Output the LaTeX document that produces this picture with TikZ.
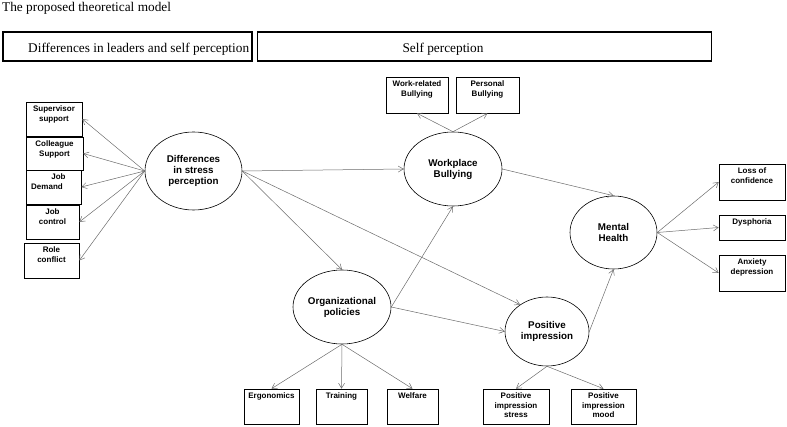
\documentclass[tikz,border=0pt]{standalone}
\usepackage{fontspec}
\setmainfont{Liberation Serif}
\newfontfamily\arialfont{Liberation Sans}
\usetikzlibrary{shapes.geometric,arrows.meta}

\newlength{\du}
\setlength{\du}{1pt}
% text of an indicator box, set at its top
\newcommand{\boxtxt}[3]{\parbox[c][#2\du][t]{#1\du}{\centering\rule{0pt}{10\du}#3}}
\definecolor{dialinecolor}{rgb}{0.000000, 0.000000, 0.000000}
\definecolor{arrowgray}{rgb}{0.420000, 0.420000, 0.420000}

\begin{document}
\begin{tikzpicture}[
  header/.style={draw=dialinecolor, line width=1.8\du, minimum height=29\du, inner sep=0pt},
  headtext/.style={inner sep=0pt, font=\fontsize{13.3}{15}\selectfont},
  factor/.style={draw=dialinecolor, ellipse, line width=0.6\du, inner sep=0pt, align=center,
    font=\arialfont\bfseries\fontsize{9.8}{11}\selectfont},
  indicator/.style={draw=dialinecolor, line width=0.6\du, rectangle, inner sep=0pt,
    font=\arialfont\bfseries\fontsize{8}{9.3}\selectfont},
  effect/.style={draw=arrowgray, line width=0.5\du, -{Straight Barb[length=5pt,width=6pt]}}
]
\pgftransformxscale{1.000000}
\pgftransformyscale{-1.000000}
\useasboundingbox (0\du,0\du) rectangle (787\du,427\du);
% title and headers
\node[anchor=base west, headtext] (title) at (2\du,11.5\du) {The proposed theoretical model};
\node[header, minimum width=249\du] (lefthead) at (127.5\du,46.5\du) {};
\node[header, minimum width=454\du] (righthead) at (484.5\du,46.5\du) {};
\node[anchor=base west, headtext] (lefttext) at (28\du,52.5\du) {Differences in leaders and self perception};
\node[anchor=base, headtext] (righttext) at (443\du,52.5\du) {Self perception};
% latent factors
\node[factor, minimum width=97\du, minimum height=78\du] (stress) at (193.5\du,171\du) {Differences\\in stress\\perception};
\node[factor, minimum width=98\du, minimum height=74\du] (bully) at (453\du,169\du) {Workplace\\Bullying};
\node[factor, minimum width=87\du, minimum height=73\du] (health) at (613.5\du,232.5\du) {Mental\\Health};
\node[factor, minimum width=98\du, minimum height=74\du] (policy) at (342\du,307\du) {Organizational\\policies};
\node[factor, minimum width=84\du, minimum height=69\du] (impress) at (547\du,331.5\du) {Positive\\impression};
% indicators, left
\node[indicator] (supsup) at (54\du,119\du) {\boxtxt{56}{34}{Supervisor\\support}};
\node[indicator] (colsup) at (54.5\du,153.5\du) {\boxtxt{57}{33}{Colleague\\Support}};
\node[indicator] (jobdem) at (53.5\du,187\du) {\boxtxt{55}{34}{\hspace*{10\du}Job\\Demand\hspace*{13\du}}};
\node[indicator] (jobctl) at (52.5\du,222\du) {\boxtxt{53}{34}{Job\\control}};
\node[indicator] (rolecon) at (51.5\du,260.5\du) {\boxtxt{55}{35}{Role\\conflict}};
% indicators, top
\node[indicator] (wrkbul) at (417\du,95\du) {\boxtxt{62}{36}{Work-related\\Bullying}};
\node[indicator] (perbul) at (487.5\du,95\du) {\boxtxt{63}{36}{Personal\\Bullying}};
% indicators, right
\node[indicator] (losscon) at (752\du,182\du) {\boxtxt{66}{36}{Loss of\\confidence}};
\node[indicator] (dysph) at (752\du,227.5\du) {\boxtxt{66}{25}{Dysphoria}};
\node[indicator] (anxdep) at (752\du,273\du) {\boxtxt{66}{36}{Anxiety\\depression}};
% indicators, bottom
\node[indicator] (ergo) at (271.5\du,406.5\du) {\boxtxt{55}{35}{Ergonomics}};
\node[indicator] (train) at (341.5\du,406.5\du) {\boxtxt{51}{35}{Training}};
\node[indicator] (welf) at (412.5\du,406.5\du) {\boxtxt{51}{35}{Welfare}};
\node[indicator] (pistress) at (516\du,406.5\du) {\boxtxt{66}{35}{Positive\\impression\\stress}};
\node[indicator] (pimood) at (603.5\du,406.5\du) {\boxtxt{65}{35}{Positive\\impression\\mood}};
% arrows
\foreach \leaf in {supsup,colsup,jobdem,jobctl,rolecon}
  \draw[effect] (stress.west) -- (\leaf.east);
\draw[effect] (stress.east) -- (bully.west);
\draw[effect] (stress.east) -- (policy.north);
\draw[effect] (stress.east) -- (impress.135);
\foreach \leaf in {wrkbul,perbul}
  \draw[effect] (bully.north) -- (\leaf.south);
\draw[effect] (bully.east) -- (health.north);
\draw[effect] (policy.east) -- (bully.south);
\draw[effect] (policy.east) -- (impress.west);
\draw[effect] (impress.east) -- (health.south);
\foreach \leaf in {losscon,dysph,anxdep}
  \draw[effect] (health.east) -- (\leaf.west);
\foreach \leaf in {ergo,train,welf}
  \draw[effect] (policy.south) -- (\leaf.north);
\foreach \leaf in {pistress,pimood}
  \draw[effect] (impress.south) -- (\leaf.north);
\end{tikzpicture}
\end{document}
